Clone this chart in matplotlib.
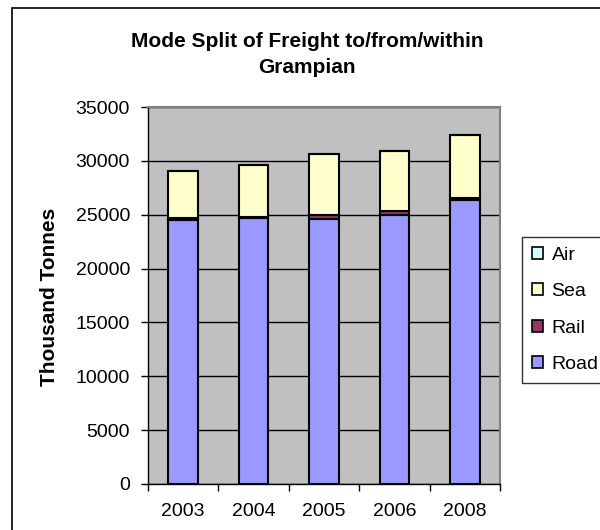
import numpy as np
import matplotlib
matplotlib.use('Agg')
import matplotlib.pyplot as plt
from matplotlib.patches import Rectangle

plt.rcParams['font.family'] = ['Liberation Sans', 'DejaVu Sans']

# data (thousand tonnes)
years = ['2003', '2004', '2005', '2006', '2008']
road = [24500, 24650, 24600, 24950, 26400]
rail = [150, 150, 350, 350, 150]
sea = [4400, 4800, 5700, 5650, 5850]
air = [10, 10, 10, 10, 10]

colors = {'Road': '#9999FF', 'Rail': '#993366', 'Sea': '#FFFFCC', 'Air': '#CCFFFF'}

fig = plt.figure(figsize=(6, 5.3), dpi=100)
ax = fig.add_axes([148/600, 46/530, 352/600, 377/530])
ax.set_facecolor('#C0C0C0')

# outer chart border (cropped on right/bottom)
fig.patches.append(Rectangle((12/600, -0.1), 1.2, 1 - 8/530 + 0.1,
                             transform=fig.transFigure, fill=False,
                             edgecolor='black', linewidth=1.2))

x = np.arange(len(years))
w = 0.42
bottom = np.zeros(len(years))
bars = {}
for name, vals in [('Road', road), ('Rail', rail), ('Sea', sea), ('Air', air)]:
    bars[name] = ax.bar(x, vals, w, bottom=bottom, color=colors[name],
                        edgecolor='black', linewidth=1.5, zorder=3)
    bottom = bottom + np.array(vals)

ax.set_xlim(-0.5, len(years) - 0.5)
ax.set_ylim(0, 35000)
ax.set_yticks(np.arange(0, 35001, 5000))
ax.yaxis.grid(True, color='black', linewidth=1, zorder=1)
ax.tick_params(axis='y', direction='out', length=5, width=1, labelsize=14, pad=8)

ax.set_xticks(x)
ax.set_xticklabels(years)
ax.set_xticks(np.arange(-0.5, len(years), 1), minor=True)
ax.tick_params(axis='x', which='major', length=0, labelsize=14, pad=14)
ax.tick_params(axis='x', which='minor', direction='out', length=5, width=1)

for s in ['top', 'right']:
    ax.spines[s].set_color('#808080')
    ax.spines[s].set_linewidth(1.5)
for s in ['left', 'bottom']:
    ax.spines[s].set_color('black')
    ax.spines[s].set_linewidth(1)

fig.text(307/600, 1 - 47/530, 'Mode Split of Freight to/from/within',
         ha='center', va='baseline', fontsize=15, fontweight='bold')
fig.text(307/600, 1 - 73/530, 'Grampian',
         ha='center', va='baseline', fontsize=15, fontweight='bold')
fig.text(50/600, 1 - 297/530, 'Thousand Tonnes', rotation=90,
         ha='center', va='center', fontsize=15, fontweight='bold')

order = ['Air', 'Sea', 'Rail', 'Road']
leg = fig.legend([bars[n] for n in order], order,
                 loc='upper left', bbox_to_anchor=(522/600, 1 - 237/530),
                 frameon=True, fancybox=False, shadow=False, fontsize=14,
                 handlelength=0.57, handleheight=0.57, handletextpad=0.45,
                 labelspacing=1.0, borderpad=0.5, borderaxespad=0)
leg.get_frame().set_edgecolor('black')
leg.get_frame().set_linewidth(1)
for h in leg.legend_handles:
    h.set_linewidth(1.2)

fig.savefig('out.png', dpi=100)
